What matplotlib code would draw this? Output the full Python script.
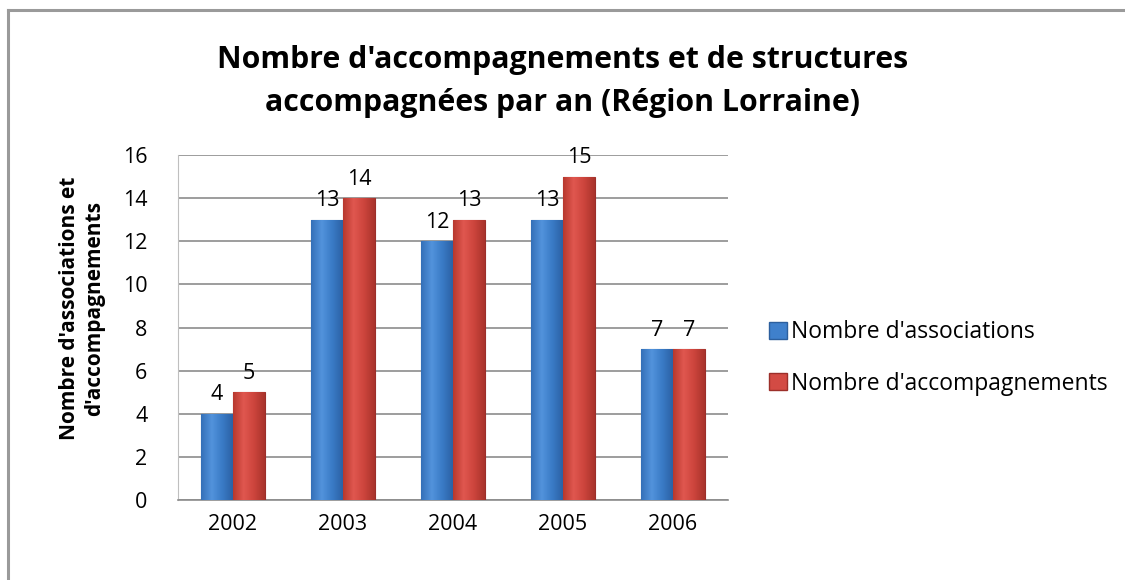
import matplotlib

matplotlib.use("Agg")
import matplotlib.pyplot as plt
from matplotlib.colors import LinearSegmentedColormap
from matplotlib.lines import Line2D
from matplotlib.patches import Patch
import numpy as np

years = ["2002", "2003", "2004", "2005", "2006"]
associations = [4, 13, 12, 13, 7]
accompagnements = [5, 14, 13, 15, 7]
series_names = ["Nombre d'associations", "Nombre d'accompagnements"]

BLUE, BLUE_EDGE = "#3f80cc", "#2c5f9e"
RED, RED_EDGE = "#d34b44", "#9c2f2a"
blue_grad = LinearSegmentedColormap.from_list("b", ["#3470b8", "#5293dc", "#3a7bc6", "#2c62a6"])
red_grad = LinearSegmentedColormap.from_list("r", ["#b8392f", "#e0574f", "#cc443c", "#a9342c"])

plt.rcParams["font.family"] = ["Open Sans", "DejaVu Sans"]

fig = plt.figure(figsize=(11.25, 5.8), dpi=100)
ax = fig.add_axes([178 / 1125, 80 / 580, 550 / 1125, 345 / 580])

x = np.arange(len(years))
w = 0.29

b1 = ax.bar(x - w / 2, associations, w, color=BLUE, edgecolor=BLUE_EDGE,
            linewidth=0.8, zorder=3)
b2 = ax.bar(x + w / 2, accompagnements, w, color=RED, edgecolor=RED_EDGE,
            linewidth=0.8, zorder=3)

# soft horizontal shading inside each bar
grad = np.linspace(0, 1, 64).reshape(1, -1)
for bars, cmap in ((b1, blue_grad), (b2, red_grad)):
    for rect in bars:
        x0, y0 = rect.get_x(), rect.get_y()
        im = ax.imshow(grad, cmap=cmap, aspect="auto", zorder=3.5,
                       extent=(x0, x0 + rect.get_width(), y0, y0 + rect.get_height()))
        im.set_clip_path(rect)

for bars, vals in ((b1, associations), (b2, accompagnements)):
    for rect, v in zip(bars, vals):
        ax.annotate(f"{v}", (rect.get_x() + rect.get_width() / 2, rect.get_height()),
                    ha="center", va="bottom", xytext=(0, 6), textcoords="offset points",
                    fontsize=15.5, color="black", zorder=5)

ax.set_xlim(-0.5, len(years) - 0.5)
ax.set_ylim(0, 16)
ax.set_yticks(range(0, 17, 2))
ax.set_xticks(x)
ax.set_xticklabels(years)
ax.tick_params(axis="both", length=0, labelsize=15.5, colors="black")
ax.tick_params(axis="x", pad=10)
ax.tick_params(axis="y", pad=22)
ax.grid(axis="y", color="#8c8c8c", lw=1.2, zorder=0)
ax.set_axisbelow(True)
for s in ("top", "right"):
    ax.spines[s].set_visible(False)
ax.spines["left"].set_color("#bfbfbf")
ax.spines["bottom"].set_color("#8c8c8c")
ax.spines["bottom"].set_linewidth(1.2)

ax.set_ylabel("Nombre d'associations et\nd'accompagnements", fontsize=15,
              fontweight="bold", linespacing=1.25)
ax.yaxis.set_label_coords(-0.133, 0.555)

fig.text(0.5, 0.86, "Nombre d'accompagnements et de structures\naccompagnées par an (Région Lorraine)",
         ha="center", va="center", fontsize=21.8, fontweight="bold", linespacing=1.55)

handles = [Patch(facecolor=BLUE, edgecolor=BLUE_EDGE),
           Patch(facecolor=RED, edgecolor=RED_EDGE)]
fig.legend(handles, series_names, loc="center left", bbox_to_anchor=(758 / 1125, 1 - 358 / 580),
           frameon=False, fontsize=16.5, handlelength=0.75, handleheight=0.75,
           handletextpad=0.2, labelspacing=1.2, borderpad=0)

# outer chart frame (top and left edges visible)
fig.add_artist(Line2D([8 / 1125, 8 / 1125], [0, 1 - 10 / 580], color="#9a9a9a", lw=2.2))
fig.add_artist(Line2D([8 / 1125, 1], [1 - 10 / 580, 1 - 10 / 580], color="#9a9a9a", lw=2.2))

fig.savefig("out.png", facecolor="white")
